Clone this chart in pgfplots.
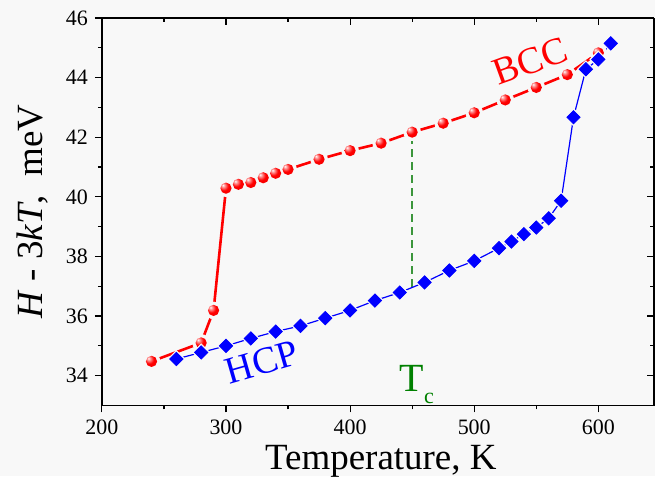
\documentclass[border=0pt]{standalone}
\usepackage{fontspec}
\setmainfont{Liberation Serif}
\usepackage{pgfplots}
\pgfplotsset{compat=1.18}
\usetikzlibrary{backgrounds}
\definecolor{bgc}{HTML}{F8F8F8}
\definecolor{tcgreen}{RGB}{0,128,0}
\definecolor{dashgreen}{RGB}{60,150,60}

% shaded red sphere used for the BCC points
\pgfdeclareradialshading{redball}{\pgfpoint{-14bp}{14bp}}{%
  color(0bp)=(white); color(6bp)=(red!35!white); color(20bp)=(red);
  color(50bp)=(red!92!black); color(70bp)=(red!75!black)}
\pgfdeclareplotmark{redball}{%
  \pgfpathcircle{\pgfpointorigin}{\pgfplotmarksize}%
  \pgfshadepath{redball}{0}\pgfusepath{}}

\pgfplotstableread{
T H
240 34.48
280 35.10
290 36.19
300 40.29
310 40.42
320 40.48
330 40.64
340 40.79
350 40.92
375 41.26
400 41.55
425 41.80
450 42.17
475 42.47
500 42.82
525 43.25
550 43.67
575 44.10
600 44.83
}\bcc

\pgfplotstableread{
T H
260 34.56
280 34.78
300 35.00
320 35.25
340 35.48
360 35.67
380 35.93
400 36.19
420 36.52
440 36.79
460 37.13
480 37.53
500 37.85
520 38.28
530 38.50
540 38.75
550 38.97
560 39.28
570 39.87
580 42.67
590 44.28
600 44.61
610 45.15
}\hcp

\begin{document}
\begin{tikzpicture}
\pgfplotsset{
  common/.style={
    width=276.5pt, height=194pt, scale only axis,
    xmin=200, xmax=645, ymin=33, ymax=46,
    xtick={200,300,...,600}, ytick={34,36,...,46},
    minor x tick num=1, minor y tick num=1,
    major tick length=3.5pt, minor tick length=2pt,
    axis line style={line width=0.8pt},
    every tick/.style={black, line width=0.6pt},
    tick label style={font=\fontsize{11}{12}\selectfont},
    /pgf/number format/assume math mode=true,
  },
}
\begin{axis}[common, name=ax,
    axis x line*=bottom, axis y line*=left, tick align=outside,
    xlabel={Temperature, K},
    ylabel={\textit{H} - 3\textit{kT},\ \ meV},
    every axis x label/.style={at={(axis description cs:0.505,-0.165)}, anchor=base,
      font=\fontsize{18.5}{20}\selectfont},
    every axis y label/.style={at={(axis description cs:-0.125,0.5)}, rotate=90, anchor=center,
      font=\fontsize{18.5}{20}\selectfont},
]
% Tc marker line
\addplot[dashgreen, line width=0.8pt, dash pattern=on 4pt off 2.5pt] coordinates {(450,36.98) (450,42.1)};

% BCC
\addplot[red, line width=1.3pt, no markers] table[x=T,y=H] {\bcc};
\addplot[only marks, mark=*, mark size=4.2pt, mark options={fill=bgc, draw=bgc}] table[x=T,y=H] {\bcc};
\addplot[only marks, mark=redball, mark size=2.8pt] table[x=T,y=H] {\bcc};

% HCP
\addplot[blue, line width=0.6pt, no markers] table[x=T,y=H] {\hcp};
\addplot[only marks, mark=square*, mark size=3.0pt, mark options={rotate=45, fill=bgc, draw=bgc}] table[x=T,y=H] {\hcp};
\addplot[only marks, mark=square*, mark size=2.35pt, mark options={rotate=45, fill=blue, draw=blue}] table[x=T,y=H] {\hcp};

\node[red, rotate=20, font=\fontsize{19}{21}\selectfont] at (axis cs:545,44.55) {BCC};
\node[blue, rotate=16, font=\fontsize{19}{21}\selectfont] at (axis cs:329,34.45) {HCP};
\node[tcgreen, anchor=base west, inner sep=0pt, font=\fontsize{20}{22}\selectfont] at (axis cs:439.7,33.46) {T\raisebox{-6pt}{\fontsize{11}{12}\selectfont c}};
\end{axis}

\begin{axis}[common, at={(ax.south west)}, anchor=south west,
    axis x line*=top, axis y line*=right, tick align=inside,
    xticklabels={}, yticklabels={}]
\end{axis}

\begin{scope}[on background layer]
\fill[bgc] ([shift={(-51pt,-35.5pt)}]ax.south west) rectangle ([shift={(0.4pt,9pt)}]ax.north east);
\end{scope}
\pgfresetboundingbox
\path[use as bounding box] ([shift={(-51pt,-35.5pt)}]ax.south west) rectangle ([shift={(0.4pt,9pt)}]ax.north east);
\end{tikzpicture}
\end{document}
